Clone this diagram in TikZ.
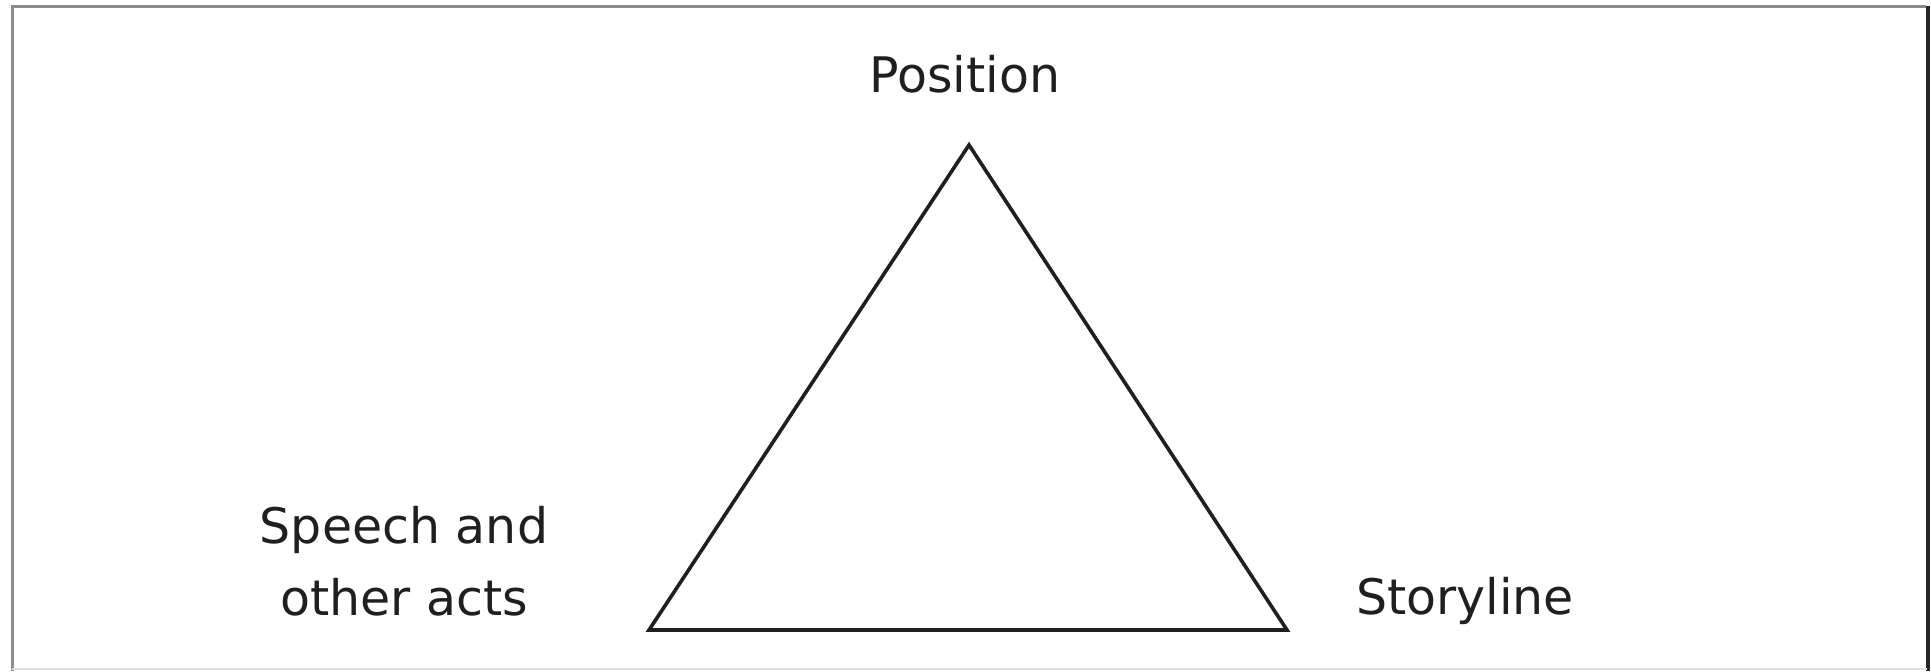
\documentclass[tikz,border=0pt]{standalone}
\usepackage{fontspec}
\setmainfont{DejaVu Sans}
\tikzset{label text/.style={text=black!88,font=\fontsize{24.5}{36}\selectfont,inner sep=0pt}}
\begin{document}
\begin{tikzpicture}[x=0.5pt,y=-0.5pt]
\useasboundingbox (0,0) rectangle (1931,671);
\fill[white] (0,0) rectangle (1931,671);
% frame
\draw[black!45,line width=1.5pt] (12,671)--(12,6)--(1926,6);
\draw[black!85,line width=2pt] (1928,6)--(1928,671);
\draw[black!12,line width=1pt] (12,669)--(1927,669);
% triangle
\coordinate (pos) at (969,145);
\coordinate (act) at (649,630);
\coordinate (story) at (1287,630);
\draw[line width=1.8pt,black!88] (pos)--(act)--(story)--cycle;
\node[label text,anchor=base] (poslabel) at (965,92) {Position};
\node[label text,anchor=base,align=center] (actlabel) at (404,615) {Speech and\\other acts};
\node[label text,anchor=base] (storylabel) at (1465,614) {Storyline};
\end{tikzpicture}
\end{document}
